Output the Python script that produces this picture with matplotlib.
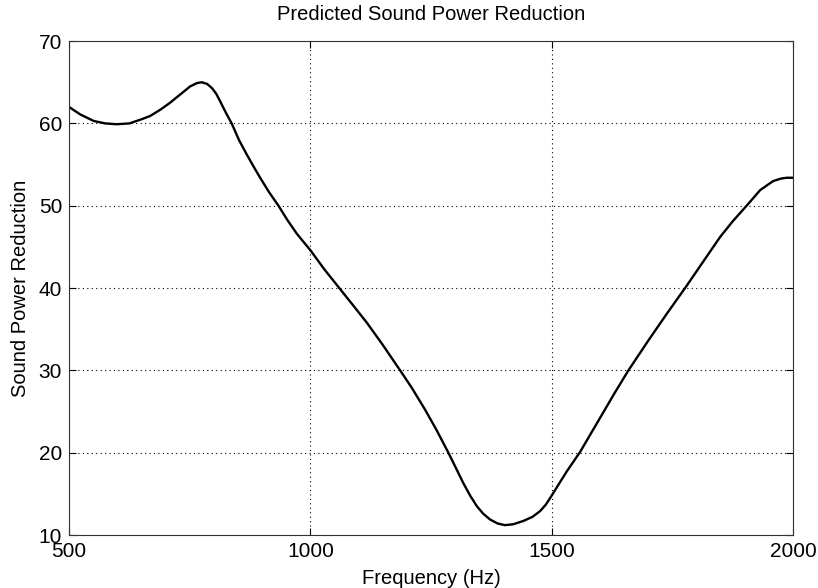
import matplotlib
matplotlib.use('Agg')
import matplotlib.pyplot as plt

plt.rcParams['font.family'] = ['Liberation Sans', 'DejaVu Sans']

# values
freq = [500, 523, 551, 575, 599, 625, 650, 668, 690, 709, 730, 751, 765, 775,
        786, 796, 805, 813, 825, 837, 852, 868, 882, 896, 915, 934, 952, 972,
        1000, 1030, 1060, 1090, 1117, 1150, 1186, 1210, 1238, 1262, 1286, 1302,
        1317, 1331, 1345, 1358, 1372, 1388, 1403, 1420, 1441, 1460, 1476, 1488,
        1498, 1515, 1531, 1545, 1559, 1580, 1600, 1630, 1659, 1700, 1740, 1780,
        1808, 1849, 1875, 1904, 1932, 1959, 1975, 1987, 2000]
reduction = [62.0, 61.1, 60.3, 60.0, 59.9, 60.0, 60.5, 60.9, 61.7, 62.5, 63.5,
             64.5, 64.9, 65.0, 64.8, 64.3, 63.6, 62.7, 61.3, 60.0, 58.0, 56.25,
             54.8, 53.4, 51.6, 50.0, 48.3, 46.6, 44.6, 42.2, 40.0, 37.8, 35.8,
             33.1, 30.0, 27.9, 25.2, 22.7, 20.0, 18.1, 16.3, 14.8, 13.5, 12.6,
             11.9, 11.4, 11.2, 11.3, 11.7, 12.2, 12.9, 13.7, 14.6, 16.2, 17.7,
             18.9, 20.1, 22.2, 24.2, 27.2, 30.0, 33.6, 37.0, 40.3, 42.7, 46.2,
             48.1, 50.0, 51.9, 53.0, 53.3, 53.4, 53.4]

xticks = [500, 1000, 1500, 2000]
yticks = [10, 20, 30, 40, 50, 60, 70]

fig = plt.figure(figsize=(8.18, 5.88), dpi=100, facecolor='white')
ax = fig.add_axes([0.0844, 0.0901, 0.885, 0.840])

ax.plot(freq, reduction, color='black', linewidth=1.7)

ax.set_xlim(500, 2000)
ax.set_ylim(10, 70)
ax.set_xticks(xticks)
ax.set_yticks(yticks)
ax.grid(True, color='black', linestyle=(0, (1, 3)), linewidth=0.8)
ax.tick_params(direction='in', top=True, right=True, length=5, labelsize=15, pad=5)
for s in ax.spines.values():
    s.set_linewidth(0.8)
    s.set_color('#333333')

ax.set_title('Predicted Sound Power Reduction', fontsize=14.5, pad=15)
ax.set_xlabel('Frequency (Hz)', fontsize=14.5, labelpad=6)
ax.set_ylabel('Sound Power Reduction', fontsize=14.5, labelpad=6)

plt.savefig('out.png', dpi=100, facecolor='white')
